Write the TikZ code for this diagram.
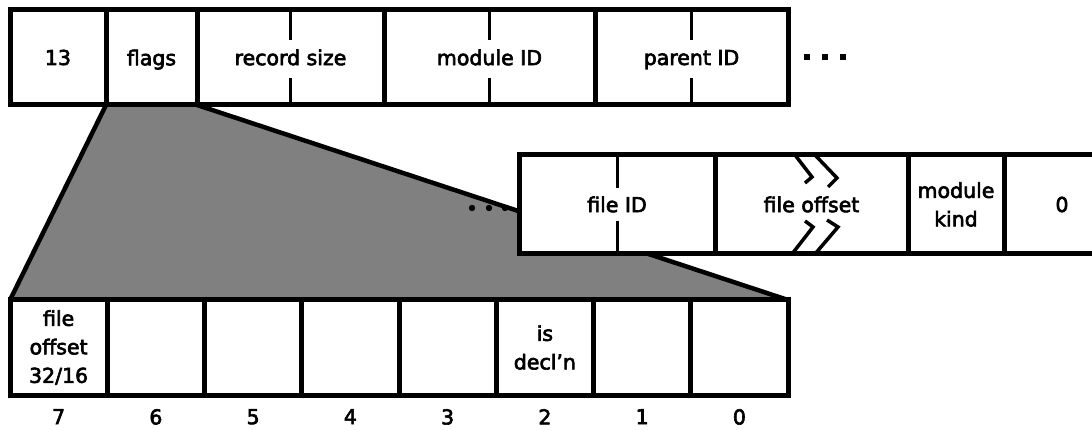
\documentclass[tikz,border=0pt]{standalone}
\usepackage{fontspec}
\setmainfont{DejaVu Sans}[FakeBold=3, Ligatures=ResetAll]
\usepackage{tikz}
\usetikzlibrary{positioning, backgrounds}

\begin{document}
\begin{tikzpicture}[x=1pt, y=-1pt, font=\fontsize{20.5}{28.5}\selectfont,
  every node/.style={align=center},
  cell/.style={draw, line width=5pt, inner sep=0pt, outer sep=0pt, minimum height=95pt},
  midcell/.style={cell, fill=white, minimum height=99pt},
  bitnum/.style={inner sep=0pt},
  halftick/.style={line width=3pt}]
  \useasboundingbox (0,0) rectangle (1092,430);
  % Record header
  \def\ry{57.5}
  \node[cell, minimum width=96pt] (code) at (58,\ry) {13};
  \node[cell, minimum width=91pt, text depth=0pt] (flags) at (151.5,\ry) {flags};
  \node[cell, minimum width=187pt] (recsize) at (290.5,\ry) {record size};
  \node[cell, minimum width=211pt] (modid) at (489.5,\ry) {module ID};
  \node[cell, minimum width=193pt, text depth=0pt] (parid) at (691.5,\ry) {parent ID};
  \draw[halftick] (recsize.north) -- ++(0,30); \draw[halftick] (recsize.south) -- ++(0,-27);
  \draw[halftick] (modid.north) -- ++(0,30); \draw[halftick] (modid.south) -- ++(0,-27);
  \draw[halftick] (parid.north) -- ++(0,30); \draw[halftick] (parid.south) -- ++(0,-27);
  \fill (804,54) rectangle ++(6,6); % more fields
  \fill (822,54) rectangle ++(6,6);
  \fill (840,54) rectangle ++(6,6);
  % Flags byte, bit 7 down to bit 0
  \def\by{347.5}
  \node[cell, minimum width=97.25pt] (b7) at (58.625,\by) {file\\offset\\32/16};
  \node[cell, minimum width=97.25pt] (b6) at (155.875,\by) {};
  \node[cell, minimum width=97.25pt] (b5) at (253.125,\by) {};
  \node[cell, minimum width=97.25pt] (b4) at (350.375,\by) {};
  \node[cell, minimum width=97.25pt] (b3) at (447.625,\by) {};
  \node[cell, minimum width=97.25pt] (b2) at (544.875,\by) {is\\decl'n};
  \node[cell, minimum width=97.25pt] (b1) at (642.125,\by) {};
  \node[cell, minimum width=97.25pt] (b0) at (739.375,\by) {};
  \node[bitnum, below=14pt of b7] (n7) {7};
  \node[bitnum, below=14pt of b6] (n6) {6};
  \node[bitnum, below=14pt of b5] (n5) {5};
  \node[bitnum, below=14pt of b4] (n4) {4};
  \node[bitnum, below=14pt of b3] (n3) {3};
  \node[bitnum, below=14pt of b2] (n2) {2};
  \node[bitnum, below=14pt of b1] (n1) {1};
  \node[bitnum, below=14pt of b0] (n0) {0};
  % blow-up of the flags field
  \begin{scope}[on background layer]
    \fill[black!50] (flags.south west) -- (flags.south east) -- (b0.north east) -- (b7.north west) -- cycle;
    \draw[line width=4.5pt] (flags.south west) -- (b7.north west);
    \draw[line width=4.5pt] (flags.south east) -- (b0.north east);
  \end{scope}
  \fill (472,208) circle (3.2); % elided fields
  \fill (489,208) circle (3.2);
  \fill (505,208) circle (3.2);
  % Record tail
  \def\my{204.5}
  \node[midcell, minimum width=196pt] (fileid) at (617,\my) {file ID};
  \node[midcell, minimum width=193pt] (fileoff) at (811.5,\my) {file offset};
  \node[midcell, minimum width=96pt] (modkind) at (956,\my) {module\\kind};
  \node[midcell, minimum width=116pt] (kind0) at (1062,\my) {0};
  \draw[halftick] (fileid.north) -- ++(0,33); \draw[halftick] (fileid.south) -- ++(0,-33);
  \draw[line width=3.5pt] (795,155) -- (812,177) -- (805,183);
  \draw[line width=3.5pt] (815,155) -- (837,178) -- (828,187);
  \draw[line width=3.5pt] (805,221) -- (813,227) -- (792,254);
  \draw[line width=3.5pt] (827,220) -- (838,227) -- (815,254);
\end{tikzpicture}
\end{document}
